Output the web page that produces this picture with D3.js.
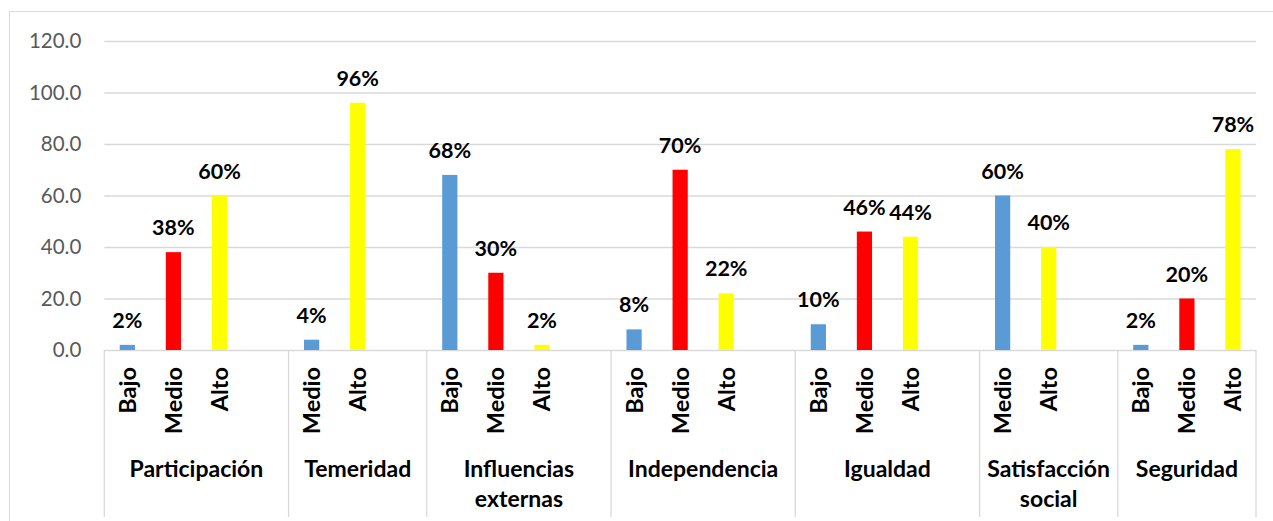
<!DOCTYPE html>
<html>
<head>
<meta charset="utf-8">
<script src="https://cdn.jsdelivr.net/npm/d3@7"></script>
<style>
  body { margin: 0; background: #fff; }
  svg { display: block; font-family: Lato, 'Open Sans', sans-serif; }
</style>
</head>
<body>
<div id="chart"></div>
<script>
// data
var groups = ['Participación', 'Temeridad', 'Influencias externas', 'Independencia', 'Igualdad', 'Satisfacción social', 'Seguridad']
var levels = [
  ['Bajo', 'Medio', 'Alto'],
  ['Medio', 'Alto'],
  ['Bajo', 'Medio', 'Alto'],
  ['Bajo', 'Medio', 'Alto'],
  ['Bajo', 'Medio', 'Alto'],
  ['Medio', 'Alto'],
  ['Bajo', 'Medio', 'Alto']
]
var values = [
  [2, 38, 60],
  [4, 96],
  [68, 30, 2],
  [8, 70, 22],
  [10, 46, 44],
  [60, 40],
  [2, 20, 78]
]
var yTicks = [0, 20, 40, 60, 80, 100, 120]

var width = 1273
var height = 521
var plot = { left: 104.3, right: 1256, top: 41, bottom: 350 }

var blue = '#5b9bd5', red = '#ff0000', yellow = '#ffff00'
var colors3 = [blue, red, yellow]
var colors2 = [blue, yellow]
var gridColor = '#d9d9d9'

// one slot per level, plus an empty slot after every group but the last
var slots = []
groups.forEach(function (g, gi) {
  levels[gi].forEach(function (lv, li) {
    slots.push({
      key: gi + '-' + li,
      group: gi,
      label: lv,
      value: values[gi][li],
      color: levels[gi].length === 3 ? colors3[li] : colors2[li]
    })
  })
  if (gi < groups.length - 1) slots.push({ key: 'gap-' + gi, group: gi, blank: true })
})

var svg = d3.select('#chart').append('svg')
  .attr('width', width)
  .attr('height', height)

// outer chart border (cropped on the right and bottom)
svg.append('rect')
  .attr('x', 9.5).attr('y', 11.5)
  .attr('width', width + 20).attr('height', height + 20)
  .attr('fill', '#fff')
  .attr('stroke', gridColor)

var x = d3.scaleBand()
  .domain(slots.map(function (d) { return d.key }))
  .range([plot.left, plot.right])
  .padding(0)

var y = d3.scaleLinear()
  .domain([0, 120])
  .range([plot.bottom, plot.top])

var barW = x.bandwidth() * 0.33

// horizontal gridlines + y labels
var yAxis = svg.append('g')
  .attr('class', 'y-axis')
  .attr('transform', 'translate(' + plot.left + ',0)')
  .call(d3.axisLeft(y).tickValues(yTicks).tickFormat(d3.format('.1f')).tickSize(-(plot.right - plot.left)).tickPadding(23))
yAxis.select('.domain').remove()
yAxis.selectAll('.tick line')
  .attr('stroke', gridColor)
  .attr('stroke-width', function (d) { return d === 0 ? 1.6 : 1.3 })
yAxis.selectAll('.tick text')
  .attr('fill', '#595959')
  .attr('font-size', '20.5px')
  .attr('font-family', 'Lato, sans-serif')

// group separators under the axis
var bounds = []
groups.forEach(function (g, gi) {
  var mine = slots.filter(function (s) { return s.group === gi })
  var x0 = x(mine[0].key)
  var x1 = x(mine[mine.length - 1].key) + x.bandwidth()
  bounds.push({ name: g, x0: x0, x1: x1 })
})
var sepX = [plot.left].concat(bounds.map(function (b) { return b.x1 }))
svg.append('g').selectAll('line')
  .data(sepX)
  .join('line')
  .attr('x1', function (d) { return d })
  .attr('x2', function (d) { return d })
  .attr('y1', plot.bottom)
  .attr('y2', 517)
  .attr('stroke', gridColor)
  .attr('stroke-width', 1.3)

var filled = slots.filter(function (s) { return !s.blank })

// bars
svg.append('g').selectAll('rect')
  .data(filled)
  .join('rect')
  .attr('x', function (d) { return x(d.key) + x.bandwidth() / 2 - barW / 2 })
  .attr('y', function (d) { return y(d.value) })
  .attr('width', barW)
  .attr('height', function (d) { return y(0) - y(d.value) })
  .attr('fill', function (d) { return d.color })

// value labels
svg.append('g').selectAll('text')
  .data(filled)
  .join('text')
  .attr('x', function (d) { return x(d.key) + x.bandwidth() / 2 })
  .attr('y', function (d) { return y(d.value) - 17 })
  .attr('text-anchor', 'middle')
  .attr('font-size', '21.5px')
  .attr('font-weight', 'bold')
  .attr('fill', '#000')
  .text(function (d) { return d.value + '%' })

// rotated level labels
svg.append('g').selectAll('text')
  .data(filled)
  .join('text')
  .attr('transform', function (d) {
    return 'translate(' + (x(d.key) + x.bandwidth() / 2) + ',367) rotate(-90)'
  })
  .attr('dy', '0.36em')
  .attr('text-anchor', 'end')
  .attr('font-size', '23.5px')
  .attr('font-weight', 'bold')
  .attr('fill', '#000')
  .text(function (d) { return d.label })

// group labels
var gl = svg.append('g').selectAll('text')
  .data(bounds)
  .join('text')
  .attr('x', function (d) { return (d.x0 + d.x1) / 2 })
  .attr('y', 476.5)
  .attr('text-anchor', 'middle')
  .attr('font-size', '23px')
  .attr('font-weight', 'bold')
  .attr('fill', '#000')
gl.each(function (d) {
  var words = d.name.split(' ')
  d3.select(this).selectAll('tspan')
    .data(words)
    .join('tspan')
    .attr('x', (d.x0 + d.x1) / 2)
    .attr('dy', function (w, i) { return i === 0 ? 0 : 30 })
    .text(function (w) { return w })
})
</script>
</body>
</html>
